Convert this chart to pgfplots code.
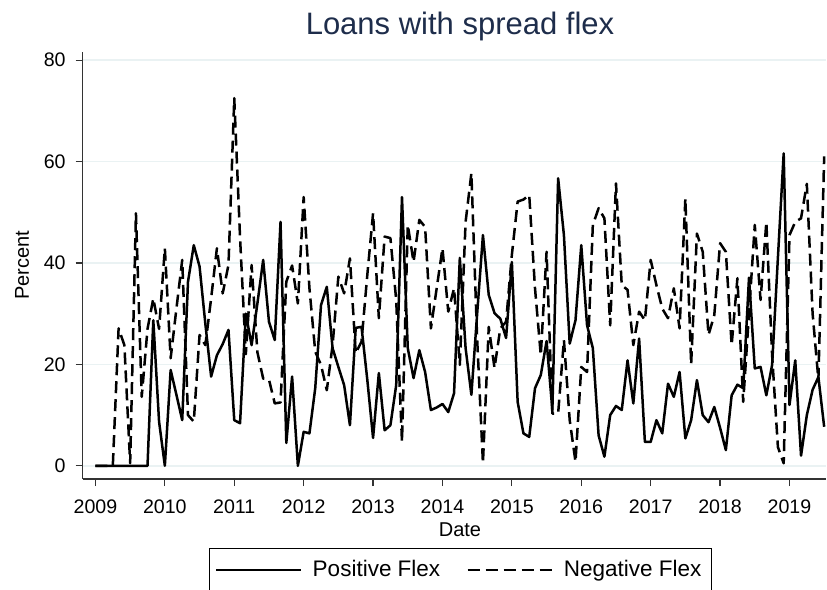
\documentclass[border=0pt]{standalone}
\usepackage{fontspec}
\setmainfont{Liberation Sans}
\usepackage{pgfplots}
\usepackage{pgfplotstable}
\pgfplotsset{compat=1.18}
\definecolor{gridc}{RGB}{234,242,243}
\definecolor{titlec}{RGB}{30,45,75}

\pgfplotstableread{
t pos neg
0 0 0
1 0 0
2 0 0
3 0 0
4 0 27.1
5 0 23.8
6 0 0.5
7 0 49.8
8 0 13.6
9 0 27
10 28.7 33
11 8.7 27
12 0 42.9
13 18.9 21.2
14 14 31
15 9 40.6
16 36.3 10
17 43.5 8.7
18 39.3 25.8
19 28 23.8
20 17.6 33
21 21.8 42.9
22 24 34
23 26.8 39.6
24 9 72.5
25 8.4 45
26 30 22
27 23.8 39.6
28 32 22.4
29 40.6 17.2
30 28.4 17
31 24.8 12.3
32 48.1 12.5
33 4.5 36.3
34 17.6 39.5
35 0 32
36 6.7 53
37 6.4 35
38 15.3 22.5
39 31.7 19.9
40 35.3 14.9
41 23.2 23.8
42 19.5 37.3
43 15.9 34
44 8 40.9
45 27.2 22.2
46 27.4 24.5
47 17 37.6
48 5.5 49.8
49 18.3 29.1
50 7 45.2
51 8 44.9
52 15.9 32.7
53 53 4.7
54 23.2 47.5
55 17.3 40.2
56 22.8 48.5
57 18.5 47.1
58 11 27.1
59 11.5 35
60 12.2 42.9
61 10.6 30.4
62 14.3 35
63 41 19.9
64 23.2 48.1
65 14 57.7
66 30 25
67 45.5 0.5
68 33.7 27.4
69 30.1 19.3
70 29 27.1
71 25.2 28.4
72 40.2 41.6
73 12.6 52.1
74 6.4 52.5
75 5.7 53.4
76 15.3 35
77 17.9 21.8
78 24.6 42.2
79 11 10.3
80 56.7 10.3
81 45.5 24.8
82 24.1 9
83 28.7 0.8
84 43.5 19.5
85 27.7 18.5
86 23.2 47.5
87 6 50.8
88 1.8 48.8
89 10 27.7
90 11.8 55.7
91 11 35.6
92 20.8 34.7
93 12.3 23.8
94 25.1 30.4
95 4.7 28.7
96 4.7 40.6
97 9 35.6
98 6.4 31
99 16.2 29.1
100 13.6 35
101 18.5 27.1
102 5.4 52.7
103 9 20
104 16.9 45.8
105 10 42.2
106 8.6 25.8
107 11.6 29.7
108 7.5 43.9
109 3.1 42.2
110 13.9 23.8
111 16 37
112 15.3 12.6
113 37.1 30
114 19.2 47.5
115 19.5 32.7
116 13.9 48.1
117 19.9 21.8
118 41 3.7
119 61.6 0.5
120 12 45.5
121 20.8 48.1
122 2 48.8
123 10 55.6
124 15 30
125 17.5 17
126 7.7 61
}\flex

\begin{document}
\begin{tikzpicture}[x=1pt,y=1pt]
\path[use as bounding box] (-41.35,-55.5) rectangle (372.15,239.5);
\begin{axis}[
  at={(0,0)}, anchor=south west,
  width=371.65pt, height=213.5pt, scale only axis,
  xmin=2008.816, xmax=2019.526,
  ymin=-2.6, ymax=81.6,
  axis x line*=bottom, axis y line*=left,
  axis line style={black!80, line width=0.6pt},
  xtick={2009,2010,...,2019},
  ytick={0,20,40,60,80},
  xticklabel style={/pgf/number format/1000 sep={}, yshift=-3.5pt},
  /pgf/number format/assume math mode=true,
  tick align=outside,
  major tick length=3.5pt,
  tick style={black!80, line width=0.6pt},
  ticklabel style={font=\fontsize{9.8}{11.5}\selectfont},
  yticklabel style={xshift=-1.5pt},
  ymajorgrids,
  major grid style={gridc, line width=0.8pt},
  title={Loans with spread flex},
  title style={at={(axis description cs:0.5076,1.032)}, anchor=center, font=\fontsize{15.5}{18}\selectfont, color=titlec},
  xlabel={Date},
  xlabel style={at={(axis description cs:0.5076,-0.118)}, anchor=center, font=\fontsize{10}{12}\selectfont},
  ylabel={Percent},
  ylabel style={at={(axis description cs:-0.0817,0.501)}, anchor=center, rotate=0, font=\fontsize{10}{12}\selectfont},
  legend columns=2,
  legend style={at={(axis description cs:0.508,-0.1616)}, anchor=north, draw=black, line width=0.5pt,
    font=\fontsize{11.25}{13}\selectfont, inner xsep=3pt, inner ysep=4pt,
    /tikz/every odd column/.append style={column sep=3pt},
    /tikz/every even column/.append style={column sep=11pt}},
  legend image code/.code={\draw[#1, line width=1.25pt] (0pt,0pt) -- (42.5pt,0pt);},
  every axis plot/.append style={line width=1.25pt, line join=round},
]
\addplot[black, solid] table[x expr=2009+\thisrow{t}/12, y=pos] {\flex};
\addlegendentry{Positive Flex}
\addplot[black, dash pattern=on 6pt off 3pt] table[x expr=2009+\thisrow{t}/12, y=neg] {\flex};
\addlegendentry{Negative Flex}
\end{axis}
\end{tikzpicture}
\end{document}
